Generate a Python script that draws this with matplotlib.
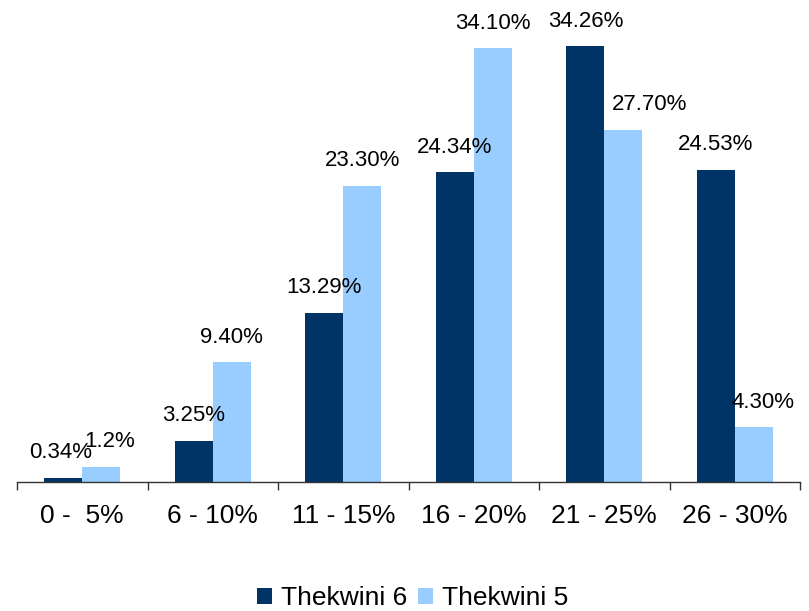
import matplotlib
matplotlib.use("Agg")
import matplotlib.pyplot as plt
import numpy as np

categories = ["0 -  5%", "6 - 10%", "11 - 15%", "16 - 20%", "21 - 25%", "26 - 30%"]
thekwini6 = [0.34, 3.25, 13.29, 24.34, 34.26, 24.53]
thekwini5 = [1.2, 9.40, 23.30, 34.10, 27.70, 4.30]
labels6 = ["0.34%", "3.25%", "13.29%", "24.34%", "34.26%", "24.53%"]
labels5 = ["1.2%", "9.40%", "23.30%", "34.10%", "27.70%", "4.30%"]
series_names = ["Thekwini 6", "Thekwini 5"]

# horizontal nudges (points) so crowded labels stay readable
nudge6 = [-2, 0, 0, 0, 0, 0]
nudge5 = [6, 0, 0, 0, 19, 7]

dark = "#003366"
light = "#99CCFF"

plt.rcParams["font.family"] = ["Liberation Sans", "DejaVu Sans"]

fig = plt.figure(figsize=(8.09, 6.11), dpi=100)
ax = fig.add_axes([17 / 809, 0.2111, 783 / 809, 0.7496])

x = np.arange(len(categories))
w = 0.29
b6 = ax.bar(x - w / 2, thekwini6, w, color=dark, label=series_names[0])
b5 = ax.bar(x + w / 2, thekwini5, w, color=light, label=series_names[1])

for rect, txt, dx in zip(b6, labels6, nudge6):
    ax.annotate(txt, (rect.get_x() + rect.get_width() / 2, rect.get_height()),
                xytext=(dx, 14), textcoords="offset points",
                ha="center", va="baseline", fontsize=16, color="black")
for rect, txt, dx in zip(b5, labels5, nudge5):
    ax.annotate(txt, (rect.get_x() + rect.get_width() / 2, rect.get_height()),
                xytext=(dx, 14), textcoords="offset points",
                ha="center", va="baseline", fontsize=16, color="black")

ax.set_xlim(-0.5, len(categories) - 0.5)
ax.set_ylim(0, 36)

for side in ["left", "right", "top"]:
    ax.spines[side].set_visible(False)
ax.spines["bottom"].set_color("#333333")
ax.spines["bottom"].set_linewidth(1.0)
ax.set_yticks([])

ax.set_xticks(x)
ax.set_xticklabels(categories, fontsize=19)
ax.set_xticks(np.arange(-0.5, len(categories)), minor=True)
ax.tick_params(axis="x", which="major", length=0, pad=16)
ax.tick_params(axis="x", which="minor", length=6, width=1, color="#333333")

fig.legend(handles=[b6, b5], labels=series_names, loc="center",
           bbox_to_anchor=(0.51, 0.021), ncol=2, frameon=False, fontsize=19,
           handlelength=0.57, handleheight=0.57, handletextpad=0.34,
           columnspacing=0.38, borderpad=0, borderaxespad=0)

fig.savefig("out.png", dpi=100)
